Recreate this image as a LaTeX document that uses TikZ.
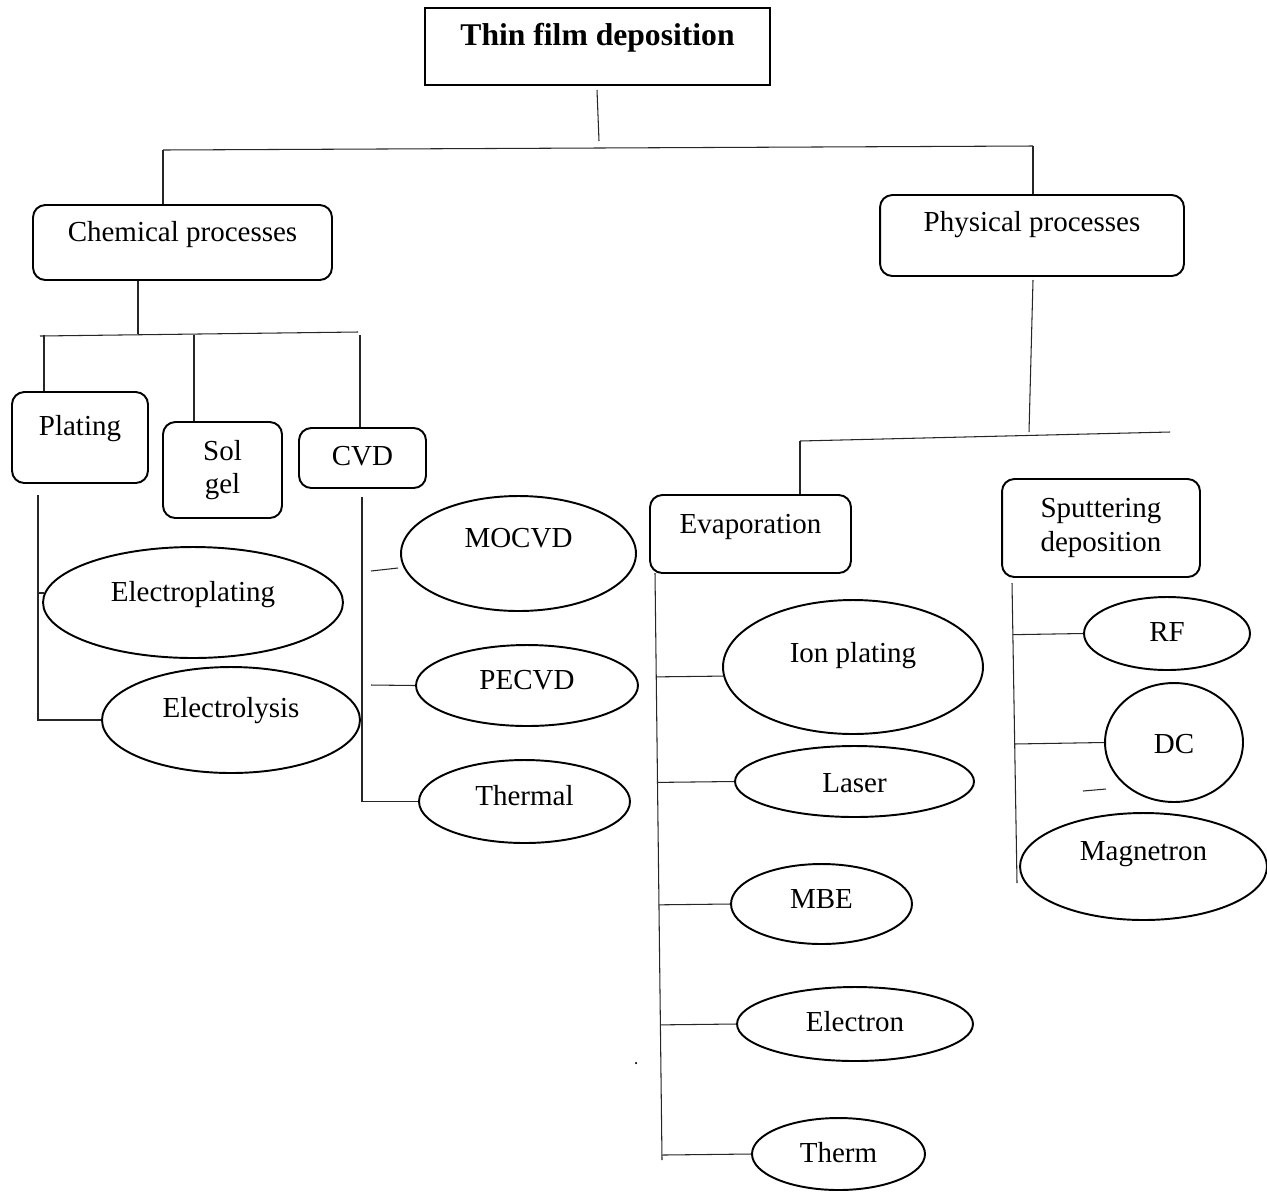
\documentclass[tikz,border=0pt]{standalone}
\usepackage{fontspec}
\setmainfont{Liberation Serif}
\usetikzlibrary{shapes.geometric,calc}
\tikzset{box/.style={draw,line width=1.1pt,rounded corners=7pt,inner sep=2pt},
  oval/.style={draw,ellipse,line width=1.1pt,inner sep=2pt},
  up/.style={text height=12pt,text depth=#1},
  link/.style={line width=0.6pt,black!85}}

\begin{document}
\begin{tikzpicture}[x=0.02cm,y=-0.02cm,font=\fontsize{16.5}{19}\selectfont]
\useasboundingbox (0,0) rectangle (1267,1191);
% boxes
\node[draw,line width=1.1pt,minimum width=6.9cm,minimum height=1.54cm,text height=13pt,text depth=14.7pt,
  font=\fontsize{18}{21}\selectfont\bfseries] (title) at (597.5,46.5) {Thin film deposition};
\node[box,up=12.6pt,minimum width=5.98cm,minimum height=1.5cm] (chem) at (182.5,242.5) {Chemical processes};
\node[box,up=17pt,minimum width=6.08cm,minimum height=1.62cm] (phys) at (1032,235.5) {Physical processes};
\node[box,up=14.8pt,minimum width=2.72cm,minimum height=1.82cm] (plating) at (80,437.5) {Plating};
\node[box,align=center,minimum width=2.38cm,minimum height=1.92cm] (solgel) at (222.5,470) {Sol\\gel};
\node[box,up=4pt,minimum width=2.54cm,minimum height=1.2cm] (cvd) at (362.5,458) {CVD};
\node[box,up=12.6pt,minimum width=4.02cm,minimum height=1.56cm] (evap) at (750.5,534) {Evaporation};
\node[box,align=center,minimum width=3.96cm,minimum height=1.96cm] (sputter) at (1101,528) {Sputtering\\deposition};
% ovals
\node[oval,up=13.5pt,minimum width=6cm,minimum height=2.22cm] (eplat) at (193,602.5) {Electroplating};
\node[oval,up=15.4pt,minimum width=5.16cm,minimum height=2.12cm] (elys) at (231,720) {Electrolysis};
\node[oval,up=19.4pt,minimum width=4.7cm,minimum height=2.3cm] (mocvd) at (518.5,553.5) {MOCVD};
\node[oval,up=6.9pt,minimum width=4.44cm,minimum height=1.62cm] (pecvd) at (527,685.5) {PECVD};
\node[oval,up=8pt,minimum width=4.22cm,minimum height=1.66cm] (thermal) at (524.5,801.5) {Thermal};
\node[oval,up=16.6pt,minimum width=5.2cm,minimum height=2.68cm] (ion) at (853,667) {Ion plating};
\node[oval,up=0pt,minimum width=4.78cm,minimum height=1.42cm] (laser) at (854.5,781.5) {Laser};
\node[oval,up=7.4pt,minimum width=3.62cm,minimum height=1.6cm] (mbe) at (821.5,904) {MBE};
\node[oval,up=4pt,minimum width=4.72cm,minimum height=1.48cm] (electron) at (855,1024) {Electron};
\node[oval,up=1.8pt,minimum width=3.46cm,minimum height=1.44cm] (therm) at (838.5,1154) {Therm};
\node[oval,up=2.4pt,minimum width=3.32cm,minimum height=1.46cm] (rf) at (1167,633.5) {RF};
\node[oval,up=0pt,minimum width=2.76cm,minimum height=2.38cm] (dc) at (1174,742.5) {DC};
\node[oval,up=18.3pt,minimum width=4.94cm,minimum height=2.14cm] (magn) at (1143.5,866.5) {Magnetron};
% top level
\coordinate (t0) at (597,90); \coordinate (t1) at (599,141);
\coordinate (b0l) at (163,150); \coordinate (b0r) at (1033,146);
\draw[link] (t0) -- (t1);
\draw[link] (b0l) -- (b0r);
\draw[link] (b0l) -- (b0l |- chem.north);
\draw[link] (b0r) -- (b0r |- phys.north);
% chemical side
\coordinate (c0) at (138,281); \coordinate (c1) at (138,334);
\coordinate (c1l) at (40,336); \coordinate (c1r) at (358,332);
\draw[link] (c0) -- (c1);
\draw[link] (c1l) -- (c1r);
\foreach \x/\n in {44/plating,194/solgel,360/cvd}{
  \coordinate (d-\n) at (\x,335);
  \draw[link] (d-\n) -- (d-\n |- \n.north);
}
\coordinate (p0) at (38,495); \coordinate (p1) at (38,593); \coordinate (p2) at (44,593);
\draw[link] (p0) |- (elys.west);
\draw[link] (p1) -- (p2);
\coordinate (v0) at (362,497); \coordinate (v1) at (371,571); \coordinate (v2) at (398,568);
\coordinate (v3) at (371,685);
\draw[link] (v0) |- (thermal.west);
\draw[link] (v1) -- (v2);
\draw[link] (v3) -- (pecvd.west);
% physical side
\coordinate (f0) at (1033,280); \coordinate (f1) at (1029,432);
\coordinate (f1l) at (800,441); \coordinate (f1r) at (1170,432);
\draw[link] (f0) -- (f1);
\draw[link] (f1l) -- (f1r);
\draw[link] (f1l) -- (f1l |- evap.north);
\coordinate (e0) at (655,573); \coordinate (e1) at (662,1160);
\draw[link] (e0) -- (e1);
\draw[link] ($(e0)!(ion.184)!(e1)$) -- (ion.184);
\foreach \n in {laser,mbe,electron,therm}
  \draw[link] ($(e0)!(\n.west)!(e1)$) -- (\n.west);
\coordinate (s0) at (1012,583); \coordinate (s1) at (1017,883);
\draw[link] (s0) -- (s1);
\foreach \n in {rf,dc}
  \draw[link] ($(s0)!(\n.west)!(s1)$) -- (\n.west);
\coordinate (s2) at (1083,791); \coordinate (s3) at (1106,789);
\draw[link] (s2) -- (s3);
\fill (636,1063) circle (0.7pt);
\end{tikzpicture}
\end{document}
